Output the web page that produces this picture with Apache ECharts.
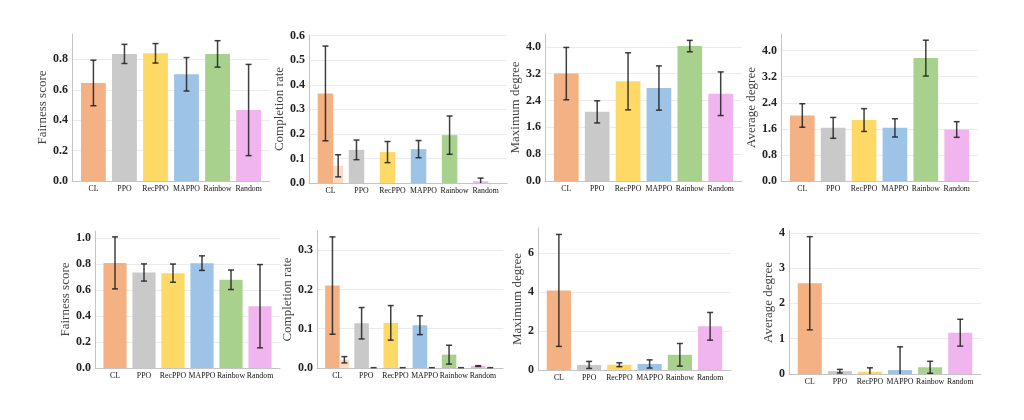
<!DOCTYPE html>
<html>
<head>
<meta charset="utf-8">
<script src="https://cdn.jsdelivr.net/npm/echarts@6/dist/echarts.min.js"></script>
<style>
  html, body { margin: 0; padding: 0; background: #fff; }
  #main { width: 1024px; height: 420px; }
</style>
</head>
<body>
<div id="main"></div>
<script>
// categories and colours
var categories = ['CL', 'PPO', 'RecPPO', 'MAPPO', 'Rainbow', 'Random'];
var colors = ['#F4B183', '#C9C9C9', '#FFD966', '#9DC3E6', '#A9D18E', '#F0B5EE'];
var lightColor = '#FADCC6';

// top row
var fairTop = [0.645, 0.836, 0.84, 0.702, 0.836, 0.467];
var fairTopErr = [0.15, 0.063, 0.064, 0.11, 0.087, 0.3];
var compTop = [0.365, 0.135, 0.126, 0.138, 0.195, 0.007];
var compTopErr = [0.193, 0.04, 0.043, 0.035, 0.078, 0.013];
var compTopB = [0.07, 0, 0, 0, 0, 0];
var compTopBErr = [0.045, 0, 0, 0, 0, 0];
var maxDegTop = [3.2, 2.06, 2.97, 2.77, 4.02, 2.6];
var maxDegTopErr = [0.78, 0.33, 0.85, 0.66, 0.17, 0.65];
var avgDegTop = [2.01, 1.63, 1.87, 1.63, 3.77, 1.58];
var avgDegTopErr = [0.36, 0.32, 0.35, 0.28, 0.55, 0.24];

// bottom row
var fairBot = [0.808, 0.734, 0.729, 0.806, 0.678, 0.475];
var fairBotErr = [0.2, 0.066, 0.07, 0.056, 0.075, 0.32];
var compBot = [0.21, 0.114, 0.115, 0.109, 0.034, 0.005];
var compBotErr = [0.124, 0.04, 0.044, 0.024, 0.024, 0.001];
var compBotB = [0.021, 0, 0, 0, 0, 0];
var compBotBErr = [0.008, 0.0008, 0.0008, 0.0008, 0.0008, 0.0008];
var maxDegBot = [4.08, 0.26, 0.27, 0.31, 0.78, 2.24];
var maxDegBotErr = [2.87, 0.18, 0.1, 0.21, 0.58, 0.71];
var avgDegBot = [2.57, 0.08, 0.065, 0.11, 0.19, 1.17];
var avgDegBotErr = [1.32, 0.05, 0.11, 0.66, 0.17, 0.38];

// tick labels
var ticksFairTop = [0, 0.2, 0.4, 0.6, 0.8];
var ticksCompTop = [0, 0.1, 0.2, 0.3, 0.4, 0.5, 0.6];
var ticksDegTop = [0, 0.8, 1.6, 2.4, 3.2, 4.0];
var ticksFairBot = [0, 0.2, 0.4, 0.6, 0.8, 1.0];
var ticksCompBot = [0, 0.1, 0.2, 0.3];
var ticksMaxDegBot = [0, 2, 4, 6];
var ticksAvgDegBot = [0, 1, 2, 3, 4];
var catTicks = [0, 1, 2, 3, 4, 5];

var panels = [
    { name: 'Fairness score', v: fairTop, e: fairTopErr, max: 0.967, ticks: ticksFairTop, dec: 1,
      box: { left: 72, top: 34, width: 198, height: 147 }, gap: 20 },
    { name: 'Completion rate', v: compTop, e: compTopErr, b: compTopB, be: compTopBErr, max: 0.603, ticks: ticksCompTop, dec: 1,
      box: { left: 309, top: 35, width: 198, height: 148 }, gap: 21 },
    { name: 'Maximum degree', v: maxDegTop, e: maxDegTopErr, max: 4.38, ticks: ticksDegTop, dec: 1,
      box: { left: 545, top: 34, width: 197, height: 147 }, gap: 21 },
    { name: 'Average degree', v: avgDegTop, e: avgDegTopErr, max: 4.51, ticks: ticksDegTop, dec: 1,
      box: { left: 781, top: 34, width: 197, height: 147 }, gap: 20 },
    { name: 'Fairness score', v: fairBot, e: fairBotErr, max: 1.053, ticks: ticksFairBot, dec: 1,
      box: { left: 95, top: 231, width: 185, height: 137 }, gap: 19 },
    { name: 'Completion rate', v: compBot, e: compBotErr, b: compBotB, be: compBotBErr, max: 0.349, ticks: ticksCompBot, dec: 1,
      box: { left: 317, top: 231, width: 186, height: 137 }, gap: 19 },
    { name: 'Maximum degree', v: maxDegBot, e: maxDegBotErr, max: 7.28, ticks: ticksMaxDegBot, dec: 0,
      box: { left: 538, top: 228, width: 193, height: 142 }, gap: 11 },
    { name: 'Average degree', v: avgDegBot, e: avgDegBotErr, max: 4.05, ticks: ticksAvgDegBot, dec: 0,
      box: { left: 789, top: 231, width: 192, height: 143 }, gap: 11 }
];

var FONT = 'Liberation Serif';
var MAIN_W = 0.50, LIGHT_W = 0.32;

function errRender(offFrac) {
    return function (params, api) {
        var x0 = api.value(0), v = api.value(1), e = api.value(2);
        if (!e) return;
        var u = api.size([1, 0])[0];
        var x = api.coord([x0, 0])[0] + offFrac * u;
        var yTop = api.coord([x0, v + e])[1];
        var low = v - e;
        var yBot = api.coord([x0, Math.max(low, 0)])[1];
        var st = { stroke: '#1e1e1e', lineWidth: 1.5, opacity: 0.85 };
        var kids = [
            { type: 'line', shape: { x1: x, y1: yTop, x2: x, y2: yBot }, style: st },
            { type: 'line', shape: { x1: x - 3, y1: yTop, x2: x + 3, y2: yTop }, style: st }
        ];
        if (low >= 0) {
            kids.push({ type: 'line', shape: { x1: x - 3, y1: yBot, x2: x + 3, y2: yBot }, style: st });
        }
        return { type: 'group', children: kids };
    };
}

function pairs(vals, errs) {
    return vals.map(function (d, i) { return errs ? [i, d, errs[i]] : [i, d]; });
}

var grids = [], xAxes = [], yAxes = [], series = [];
panels.forEach(function (p, k) {
    grids.push(p.box);
    xAxes.push({
        type: 'value', gridIndex: k, min: -0.69, max: 5.69,
        axisLine: { show: true, onZero: false, lineStyle: { color: '#c4c4c4', width: 1 } },
        axisTick: { show: false, customValues: catTicks },
        splitLine: { show: false },
        axisLabel: {
            customValues: catTicks, margin: 4, hideOverlap: false,
            showMinLabel: true, showMaxLabel: true,
            formatter: function (v) { return categories[v]; },
            fontFamily: FONT, fontSize: 7.8, color: '#111'
        }
    });
    yAxes.push({
        type: 'value', gridIndex: k, min: 0, max: p.max,
        name: p.name, nameLocation: 'middle', nameGap: p.gap,
        nameTextStyle: { fontFamily: FONT, fontSize: 13, color: '#444' },
        axisLine: { show: true, onZero: false, lineStyle: { color: '#c4c4c4', width: 1 } },
        axisTick: { show: false, customValues: p.ticks },
        splitLine: { show: true, lineStyle: { color: '#ebebeb', width: 1 } },
        axisLabel: {
            customValues: p.ticks, margin: 4,
            formatter: function (v) { return v.toFixed(p.dec); },
            fontFamily: FONT, fontSize: 12, fontWeight: 'bold', color: '#222'
        }
    });

    var hasB = !!p.b;
    series.push({
        type: 'bar', xAxisIndex: k, yAxisIndex: k,
        data: pairs(p.v),
        barWidth: hasB ? (MAIN_W * 100) + '%' : '80%',
        barGap: '0%',
        itemStyle: { color: function (q) { return colors[q.dataIndex]; } },
        silent: true
    });
    if (hasB) {
        series.push({
            type: 'bar', xAxisIndex: k, yAxisIndex: k,
            data: pairs(p.b),
            barWidth: (LIGHT_W * 100) + '%',
            barGap: '0%',
            itemStyle: { color: lightColor },
            silent: true
        });
    }
    series.push({
        type: 'custom', xAxisIndex: k, yAxisIndex: k, z: 10,
        renderItem: errRender(hasB ? -LIGHT_W / 2 : 0),
        data: pairs(p.v, p.e), encode: { x: 0, y: 1 }, silent: true
    });
    if (hasB) {
        series.push({
            type: 'custom', xAxisIndex: k, yAxisIndex: k, z: 10,
            renderItem: errRender(MAIN_W / 2),
            data: pairs(p.b, p.be), encode: { x: 0, y: 1 }, silent: true
        });
    }
});

var myChart = echarts.init(document.getElementById('main'), null, { renderer: 'canvas' });
var option = {
    backgroundColor: '#ffffff',
    animation: false,
    grid: grids,
    xAxis: xAxes,
    yAxis: yAxes,
    series: series
};
option && myChart.setOption(option);
</script>
</body>
</html>
